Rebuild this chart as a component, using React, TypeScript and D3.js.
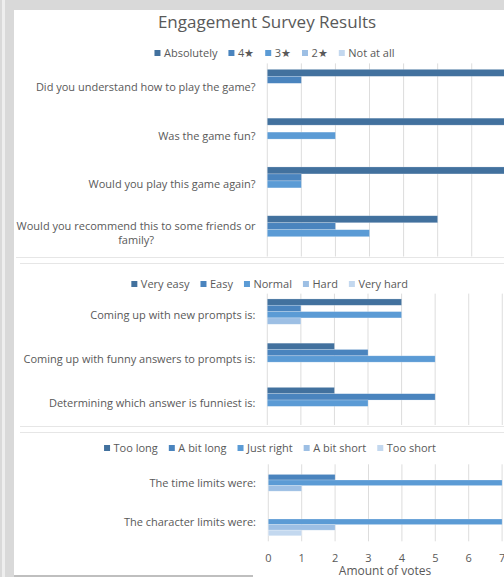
import React from "react";
import * as d3 from "d3";

// ---------- DATA ----------
const title = "Engagement Survey Results";

const panel1Categories = [
  ["Did you understand how to play the game?"],
  ["Was the game fun?"],
  ["Would you play this game again?"],
  ["Would you recommend this to some friends or", "family?"],
];
const panel1SeriesNames = ["Absolutely", "4★", "3★", "2★", "Not at all"];
const absolutely = [9, 9, 9, 5];
const fourStar = [1, 0, 1, 2];
const threeStar = [0, 2, 1, 3];
const twoStar = [0, 0, 0, 0];
const notAtAll = [0, 0, 0, 0];

const panel2Categories = [
  ["Coming up with new prompts is:"],
  ["Coming up with funny answers to prompts is:"],
  ["Determining which answer is funniest is:"],
];
const panel2SeriesNames = ["Very easy", "Easy", "Normal", "Hard", "Very hard"];
const veryEasy = [4, 2, 2];
const easy = [1, 3, 5];
const normal = [4, 5, 3];
const hard = [1, 0, 0];
const veryHard = [0, 0, 0];

const panel3Categories = [["The time limits were:"], ["The character limits were:"]];
const panel3SeriesNames = ["Too long", "A bit long", "Just right", "A bit short", "Too short"];
const tooLong = [0, 0];
const aBitLong = [2, 0];
const justRight = [7, 7];
const aBitShort = [1, 2];
const tooShort = [0, 1];

const xTicks = [0, 1, 2, 3, 4, 5, 6, 7];
const xAxisTitle = "Amount of votes";

// ---------- STYLE ----------
const W = 504;
const H = 577;
const COLORS = ["#42719e", "#4a84be", "#5b9bd5", "#9dbfe4", "#c3d8ef"];
const TEXT = "#595959";
const GRID = "#d9d9d9";
const FONT = "'Open Sans', sans-serif";
const LABEL_SIZE = 11;

let _ctx: CanvasRenderingContext2D | null = null;
function measure(text: string, size: number) {
  if (!_ctx) {
    const c = document.createElement("canvas");
    _ctx = c.getContext("2d");
  }
  if (!_ctx) return text.length * size * 0.5;
  _ctx.font = `${size}px "Open Sans"`;
  return _ctx.measureText(text).width;
}

type PanelProps = {
  categories: string[][];
  seriesNames: string[];
  series: number[][];
  plotTop: number;
  plotBottom: number;
  gridBottom: number;
  x0: number;
  unit: number;
  legendY: number;
  legendCx: number;
  labelRight: number;
};

function Legend({ names, y, cx }: { names: string[]; y: number; cx: number }) {
  const sq = 6;
  const gapAfterSq = 3.5;
  const gapBetween = 11;
  const widths = names.map((n) => sq + gapAfterSq + measure(n, LABEL_SIZE));
  const total = d3.sum(widths) + gapBetween * (names.length - 1);
  let x = cx - total / 2;
  const items = names.map((n, i) => {
    const ix = x;
    x += widths[i] + gapBetween;
    return (
      <g key={n}>
        <rect x={ix} y={y - sq / 2} width={sq} height={sq} fill={COLORS[i]} />
        <text x={ix + sq + gapAfterSq} y={y + 3.9} fontSize={LABEL_SIZE} fill={TEXT} fontFamily={FONT}>
          {n}
        </text>
      </g>
    );
  });
  return <g>{items}</g>;
}

function Panel(p: PanelProps) {
  const cats = p.categories.map((_, i) => String(i));
  const y = d3
    .scaleBand<string>()
    .domain(cats)
    .range([p.plotTop, p.plotBottom])
    .paddingInner(0.285)
    .paddingOuter(0.1425);
  const ys = d3
    .scaleBand<string>()
    .domain(p.seriesNames)
    .range([0, y.bandwidth()])
    .padding(0);
  const x = d3
    .scaleLinear()
    .domain([0, 1])
    .range([p.x0, p.x0 + p.unit]);
  const gridVals = d3.range(0, 12).filter((v) => x(v) <= W + 1);
  return (
    <g>
      {gridVals.map((v) => (
        <line
          key={v}
          x1={x(v)}
          x2={x(v)}
          y1={p.plotTop + 1}
          y2={p.gridBottom}
          stroke={GRID}
          strokeWidth={0.9}
        />
      ))}
      {cats.map((c, ci) => (
        <g key={c}>
          {p.series.map((s, si) =>
            s[ci] > 0 ? (
              <rect
                key={si}
                x={x(0)}
                y={(y(c) as number) + (ys(p.seriesNames[si]) as number)}
                width={x(s[ci]) - x(0)}
                height={ys.bandwidth()}
                fill={COLORS[si]}
                stroke="#ffffff"
                strokeOpacity={0.35}
                strokeWidth={0.6}
              />
            ) : null
          )}
        </g>
      ))}
      {p.categories.map((lines, ci) => {
        const cy = (y(String(ci)) as number) + y.bandwidth() / 2;
        const lh = 14;
        if (lines.length === 1) {
          return (
            <text
              key={ci}
              x={p.labelRight}
              y={cy + 3.9}
              textAnchor="end"
              fontSize={LABEL_SIZE}
              fill={TEXT}
              fontFamily={FONT}
            >
              {lines[0]}
            </text>
          );
        }
        const maxW = d3.max(lines, (l) => measure(l, LABEL_SIZE)) || 0;
        const mx = p.labelRight - maxW / 2;
        const startY = cy - ((lines.length - 1) * lh) / 2;
        return (
          <g key={ci}>
            {lines.map((l, li) => (
              <text
                key={li}
                x={mx}
                y={startY + li * lh + 3.9}
                textAnchor="middle"
                fontSize={LABEL_SIZE}
                fill={TEXT}
                fontFamily={FONT}
              >
                {l}
              </text>
            ))}
          </g>
        );
      })}
      <Legend names={p.seriesNames} y={p.legendY} cx={p.legendCx} />
    </g>
  );
}

export default function App() {
  const x3 = d3.scaleLinear().domain([0, 1]).range([268.3, 268.3 + 33.4]);
  return (
    <svg
      width={W}
      height={H}
      style={{ position: "absolute", left: 0, top: 0, display: "block" }}
      fontFamily={FONT}
    >
      <rect x={0} y={0} width={W} height={H} fill="#d9d9d9" />
      <rect x={2} y={0} width={3} height={H} fill="#eeeeee" />
      <rect x={14} y={10} width={W - 14} height={H - 10} fill="#ffffff" />
      <rect x={14} y={575} width={239} height={2} fill="#bfbfbf" />

      <text x={267} y={28} textAnchor="middle" fontSize={17} fill={TEXT} fontFamily={FONT}>
        {title}
      </text>

      <Panel
        categories={panel1Categories}
        seriesNames={panel1SeriesNames}
        series={[absolutely, fourStar, threeStar, twoStar, notAtAll]}
        plotTop={62.4}
        plotBottom={257.6}
        gridBottom={256.5}
        x0={267.3}
        unit={34.07}
        legendY={53}
        legendCx={274.5}
        labelRight={255.5}
      />
      <line x1={16} x2={W} y1={257.5} y2={257.5} stroke="#e6e6e6" strokeWidth={1.2} />
      <line x1={20} x2={W} y1={263.5} y2={263.5} stroke="#e6e6e6" strokeWidth={1.2} />

      <Panel
        categories={panel2Categories}
        seriesNames={panel2SeriesNames}
        series={[veryEasy, easy, normal, hard, veryHard]}
        plotTop={292.65}
        plotBottom={425.3}
        gridBottom={425}
        x0={267.3}
        unit={33.57}
        legendY={284}
        legendCx={269.7}
        labelRight={255.5}
      />
      <line x1={20} x2={W} y1={426.5} y2={426.5} stroke="#e6e6e6" strokeWidth={1.2} />
      <line x1={20} x2={W} y1={432.5} y2={432.5} stroke="#e6e6e6" strokeWidth={1.2} />

      <Panel
        categories={panel3Categories}
        seriesNames={panel3SeriesNames}
        series={[tooLong, aBitLong, justRight, aBitShort, tooShort]}
        plotTop={463.3}
        plotBottom={541.3}
        gridBottom={541.3}
        x0={268.3}
        unit={33.4}
        legendY={448}
        legendCx={270}
        labelRight={256}
      />
      {xTicks.map((t) => (
        <text key={t} x={x3(t)} y={562} textAnchor="middle" fontSize={11} fill={TEXT} fontFamily={FONT}>
          {t}
        </text>
      ))}
      <text x={385} y={575} textAnchor="middle" fontSize={12} fill={TEXT} fontFamily={FONT}>
        {xAxisTitle}
      </text>
    </svg>
  );
}
